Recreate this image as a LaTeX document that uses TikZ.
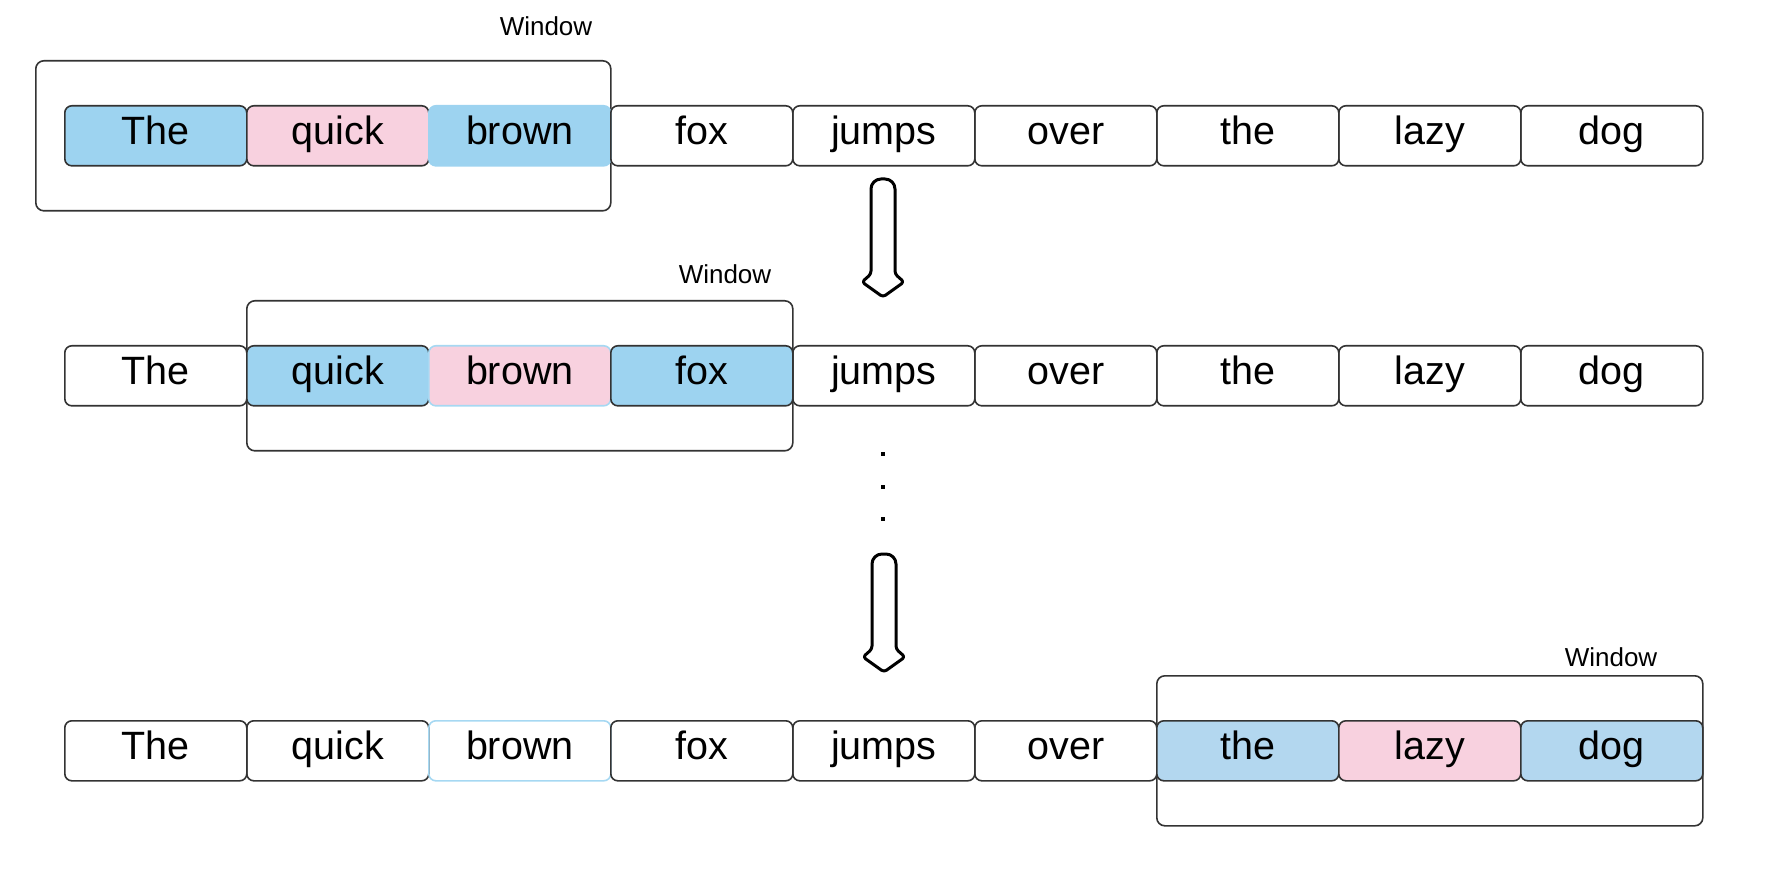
\documentclass[tikz,border=0pt]{standalone}
\usepackage{fontspec}
\setmainfont{Liberation Sans}
\definecolor{bl}{HTML}{9DD3F0}
\definecolor{blc}{HTML}{B3D7EF}
\definecolor{pk}{HTML}{F8D1DF}
\definecolor{lbl}{HTML}{A6D8F2}
\definecolor{ln}{HTML}{333333}
\begin{document}
\begin{tikzpicture}[x=1pt,y=-1pt,
  word/.style={draw=ln, line width=1.6pt, rounded corners=7pt, minimum width=182pt,
    minimum height=60pt, inner sep=0pt, text height=29pt, text depth=11pt,
    font=\fontsize{39.5}{46}\selectfont, anchor=north west},
  win/.style={draw=ln, line width=1.6pt, rounded corners=8pt, inner sep=0pt,
    minimum height=150pt, anchor=north west},
  lab/.style={font=\fontsize{26}{30}\selectfont, anchor=base, inner sep=0pt},
  bigarrow/.style={draw=black, line width=3pt, fill=white, line join=round},
  dotmark/.style={fill=black}]
\useasboundingbox (0,0) rectangle (1792,874);
% windows
\node[win, minimum width=575pt] (w1) at (35,60) {};
\node[win, minimum width=546pt] (w2) at (246,300) {};
\node[win, minimum width=546pt] (w3) at (1156,675) {};
\node[lab] (l1) at (546,36) {Window};
\node[lab] (l2) at (725,284) {Window};
\node[lab] (l3) at (1611,666) {Window};
% row 1
\node[word, fill=bl] (a1) at (64,105) {The};
\node[word, fill=pk] (a2) at (246,105) {quick};
\node[word, fill=bl, draw=bl] (a3) at (428,105) {brown};
\node[word] (a4) at (610,105) {fox};
\node[word] (a5) at (792,105) {jumps};
\node[word] (a6) at (974,105) {over};
\node[word] (a7) at (1156,105) {the};
\node[word] (a8) at (1338,105) {lazy};
\node[word] (a9) at (1520,105) {dog};
% row 2
\node[word] (b1) at (64,345) {The};
\node[word, fill=bl] (b2) at (246,345) {quick};
\node[word, fill=pk, draw=lbl] (b3) at (428,345) {brown};
\node[word, fill=bl] (b4) at (610,345) {fox};
\node[word] (b5) at (792,345) {jumps};
\node[word] (b6) at (974,345) {over};
\node[word] (b7) at (1156,345) {the};
\node[word] (b8) at (1338,345) {lazy};
\node[word] (b9) at (1520,345) {dog};
% row 3
\node[word] (c1) at (64,720) {The};
\node[word] (c2) at (246,720) {quick};
\node[word, draw=lbl] (c3) at (428,720) {brown};
\node[word] (c4) at (610,720) {fox};
\node[word] (c5) at (792,720) {jumps};
\node[word] (c6) at (974,720) {over};
\node[word, fill=blc] (c7) at (1156,720) {the};
\node[word, fill=pk] (c8) at (1338,720) {lazy};
\node[word, fill=blc] (c9) at (1520,720) {dog};
% arrows
\draw[bigarrow] (871,230) [rounded corners=10pt] -- (871,179) -- (895,179) -- (895,230)
  [rounded corners=3pt] -- (895,274) -- (904,282) -- (883,297) -- (862,282) -- (871,274)
  -- cycle;
\draw[bigarrow] (872,605) [rounded corners=10pt] -- (872,554) -- (896,554) -- (896,605)
  [rounded corners=3pt] -- (896,649) -- (905,657) -- (884,672) -- (863,657) -- (872,649)
  -- cycle;
% dots
\fill[dotmark] (881,452.3) rectangle (885,456.3);
\fill[dotmark] (881,484.7) rectangle (885,488.7);
\fill[dotmark] (881,517.3) rectangle (885,521.3);
\end{tikzpicture}
\end{document}
